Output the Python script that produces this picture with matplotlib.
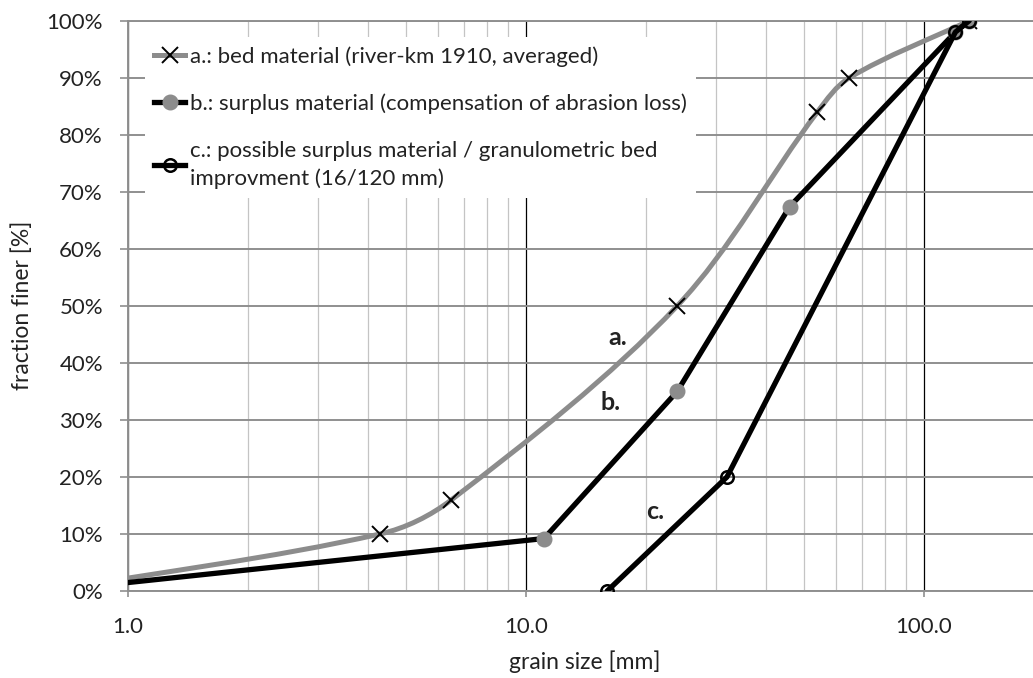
import matplotlib.pyplot as plt
import numpy as np
import matplotlib.patches as patches
from matplotlib.path import Path
from matplotlib.lines import Line2D
from matplotlib.ticker import FixedLocator, FuncFormatter, NullFormatter

plt.rcParams['font.family'] = ['Lato', 'DejaVu Sans']

# grain size [mm] / fraction finer [%]
a_size = [0.63, 4.3, 6.5, 24.0, 54.0, 65.0, 130.0]
a_finer = [0.0, 10.0, 16.0, 50.0, 84.0, 90.0, 100.0]

b_size = [0.63, 11.1, 24.0, 46.0, 120.0, 130.0]
b_finer = [0.0, 9.2, 35.0, 67.4, 98.0, 100.0]

c_size = [16.0, 32.0, 120.0, 130.0]
c_finer = [0.0, 20.0, 98.0, 100.0]

legend_labels = [
    'a.: bed material (river-km 1910, averaged)',
    'b.: surplus material (compensation of abrasion loss)',
    'c.: possible surplus material / granulometric bed\nimprovment (16/120 mm)',
]
curve_tags = ['a.', 'b.', 'c.']

x_ticks = [1, 10, 100]
y_ticks = list(range(0, 101, 10))

GREY_LINE = '#8c8c8c'
GRID = '#8f8f8f'
TXT = '#222222'


def smooth_path(xs, ys, sx=398.0, sy=5.7):
    """
    Smoothed line like the spreadsheet one: cubic bezier segments whose
    tangents are scaled by chord length (done in screen-like units, log x)
    """
    px = np.log10(np.asarray(xs, dtype=float)) * sx
    py = np.asarray(ys, dtype=float) * sy
    pts = np.column_stack([px, py])
    n = len(pts)
    d = np.hypot(*np.diff(pts, axis=0).T)

    tang = np.zeros_like(pts)
    tang[0] = (pts[1] - pts[0]) / d[0]
    tang[-1] = (pts[-1] - pts[-2]) / d[-1]
    for i in range(1, n - 1):
        tang[i] = (pts[i + 1] - pts[i - 1]) / (d[i - 1] + d[i])

    verts = [pts[0]]
    codes = [Path.MOVETO]
    for i in range(n - 1):
        c1 = pts[i] + tang[i] * d[i] / 3
        c2 = pts[i + 1] - tang[i + 1] * d[i] / 3
        verts += [c1, c2, pts[i + 1]]
        codes += [Path.CURVE4] * 3
    verts = [(10 ** (vx / sx), vy / sy) for vx, vy in verts]
    return Path(verts, codes)


fig = plt.figure(figsize=(10.33, 6.78), dpi=100)
ax = fig.add_axes([128 / 1033, 1 - 591 / 678, 1 - 128 / 1033, (591 - 20.7) / 678])

ax.set_xscale('log')
ax.set_xlim(1, 188)
ax.set_ylim(0, 100)

# grid
ax.set_axisbelow(True)
ax.xaxis.set_major_locator(FixedLocator(x_ticks))
ax.xaxis.set_major_formatter(FuncFormatter(lambda v, p: f'{v:.1f}'))
ax.xaxis.set_minor_formatter(NullFormatter())
ax.yaxis.set_major_locator(FixedLocator(y_ticks))
ax.yaxis.set_major_formatter(FuncFormatter(lambda v, p: f'{v:.0f}%'))
ax.xaxis.grid(True, which='major', color='black', linewidth=0.9)
ax.xaxis.grid(True, which='minor', color='#c4c4c4', linewidth=0.9)
ax.yaxis.grid(True, which='major', color=GRID, linewidth=1.4)

for side in ['left', 'bottom', 'top']:
    ax.spines[side].set_color(GRID)
    ax.spines[side].set_linewidth(1.4)
ax.spines['right'].set_visible(False)

ax.tick_params(axis='y', direction='out', length=6, width=1.2, color=GRID,
               pad=12, labelsize=16, labelcolor=TXT)
ax.tick_params(axis='x', which='major', direction='out', length=4, width=1.2, color=GRID,
               pad=15, labelsize=16, labelcolor=TXT)
ax.tick_params(axis='x', which='minor', length=0)

# curve a: smoothed grey line with x markers
ax.add_patch(patches.PathPatch(smooth_path(a_size, a_finer), facecolor='none',
                               edgecolor=GREY_LINE, linewidth=3.6,
                               capstyle='round', joinstyle='round', zorder=3))
ax.plot(a_size, a_finer, linestyle='none', marker='x', markersize=11,
        markeredgecolor='black', markeredgewidth=1.4, zorder=4)

# curve b: straight black line, grey dots
ax.plot(b_size, b_finer, color='black', linewidth=3.8, marker='o', markersize=10.5,
        markerfacecolor=GREY_LINE, markeredgecolor=GREY_LINE, solid_capstyle='round', zorder=5)

# curve c: straight black line, open circles
ax.plot(c_size, c_finer, color='black', linewidth=3.8, marker='o', markersize=9,
        markerfacecolor='none', markeredgecolor='black', markeredgewidth=1.8,
        solid_capstyle='round', zorder=6)

# curve tags
ax.text(17.0, 44.4, curve_tags[0], fontsize=18, fontweight='bold', color=TXT, ha='center', va='center')
ax.text(16.3, 33.1, curve_tags[1], fontsize=18, fontweight='bold', color=TXT, ha='center', va='center')
ax.text(21.1, 13.9, curve_tags[2], fontsize=18, fontweight='bold', color=TXT, ha='center', va='center')

# legend
handles = [
    Line2D([], [], color=GREY_LINE, linewidth=3.6, marker='x', markersize=11,
           markeredgecolor='black', markeredgewidth=1.4),
    Line2D([], [], color='black', linewidth=3.8, marker='o', markersize=10.5,
           markerfacecolor=GREY_LINE, markeredgecolor=GREY_LINE),
    Line2D([], [], color='black', linewidth=3.8, marker='o', markersize=9,
           markerfacecolor='none', markeredgecolor='black', markeredgewidth=1.8),
]
leg = ax.legend(handles, legend_labels, loc='upper left', bbox_to_anchor=(0.019, 0.971),
                fontsize=16, frameon=True, fancybox=False, framealpha=1,
                edgecolor='none', facecolor='white', handlelength=1.4,
                handletextpad=0.22, labelspacing=1.2, borderpad=0.4, borderaxespad=0)
for t in leg.get_texts():
    t.set_color(TXT)
    t.set_linespacing(1.45)

# axis titles
fig.text(22 / 1033, 1 - 305 / 678, 'fraction finer [%]', rotation=90, fontsize=16.5,
         color=TXT, ha='center', va='center')
fig.text(585 / 1033, 1 - 662 / 678, 'grain size [mm]', fontsize=16.5,
         color=TXT, ha='center', va='center')

fig.savefig('out.png', dpi=100)
